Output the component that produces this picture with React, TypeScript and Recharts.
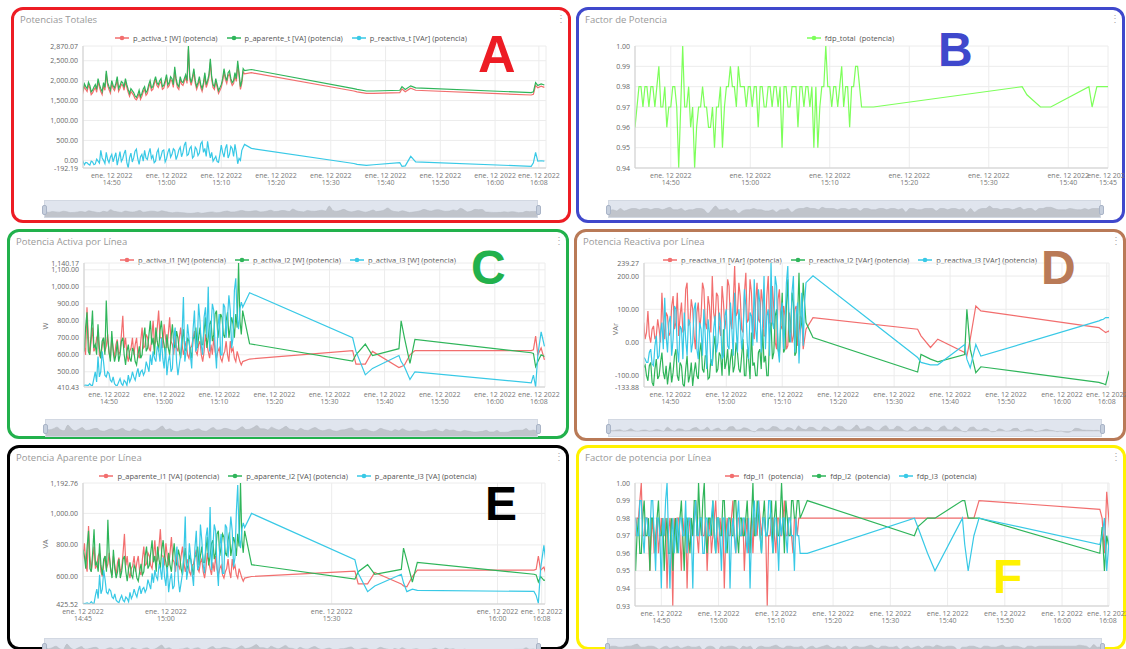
import React from "react";
import { LineChart, Line, XAxis, YAxis, CartesianGrid, AreaChart, Area } from "recharts";

// sample times, minutes after 14:00 (dense logging, then a few sparse samples)
const denseT = [
  44.5, 44.75, 45, 45.25, 45.5, 45.75, 46, 46.25, 46.5, 46.75, 47, 47.25, 47.5, 47.75, 48, 48.25, 48.5, 48.75, 49, 49.25,
  49.5, 49.75, 50, 50.25, 50.5, 50.75, 51, 51.25, 51.5, 51.75, 52, 52.25, 52.5, 52.75, 53, 53.25, 53.5, 53.75, 54, 54.25,
  54.5, 54.75, 55, 55.25, 55.5, 55.75, 56, 56.25, 56.5, 56.75, 57, 57.25, 57.5, 57.75, 58, 58.25, 58.5, 58.75, 59, 59.25,
  59.5, 59.75, 60, 60.25, 60.5, 60.75, 61, 61.25, 61.5, 61.75, 62, 62.25, 62.5, 62.75, 63, 63.25, 63.5, 63.75, 64, 64.25,
  64.5, 64.75, 65, 65.25, 65.5, 65.75, 66, 66.25, 66.5, 66.75, 67, 67.25, 67.5, 67.75, 68, 68.25, 68.5, 68.75, 69, 69.25,
  69.5, 69.75, 70, 70.25, 70.5, 70.75, 71, 71.25, 71.5, 71.75, 72, 72.25, 72.5, 72.75, 73, 73.25, 73.5, 73.75, 74, 74.25,
];
const tailT = [75.5, 94.2, 94.8, 96.5, 97.8, 102.6, 103, 103.6, 104.6, 105.5, 126.6, 127, 127.4, 127.8, 128.4, 129];
const times = [...denseT, ...tailT];

// A: Potencias Totales
const activaT = [
  1830, 1710, 1850, 1780, 1730, 1890, 1810, 1650, 1690, 1770, 1830, 1710, 1980, 1830, 1730, 1650, 1880, 1760, 2170, 1880,
  1780, 1690, 1930, 1810, 1750, 1860, 2030, 1730, 1800, 1910, 1880, 1760, 1980, 1830, 1710, 1610, 1730, 1680, 1630, 1550,
  1520, 1580, 1690, 1530, 1610, 1720, 1780, 1630, 1680, 1830, 1930, 1750, 1780, 1910, 2030, 1880, 1830, 1930, 1980, 1780,
  1810, 1930, 2080, 1830, 1880, 2030, 1980, 1830, 2270, 1980, 1830, 1780, 2030, 1910, 1880, 1980, 2080, 1930, 2790, 2030,
  1880, 2030, 2220, 1930, 1780, 1880, 2030, 1830, 1730, 1880, 2120, 1830, 1930, 2080, 2460, 2030, 1830, 1780, 1980, 1830,
  1680, 1750, 1830, 1980, 2220, 2030, 1930, 2120, 2170, 1980, 1880, 1930, 2120, 1980, 2400, 2120, 1780, 1930, 2220, 2170,
  2200, 1740, 1720, 1680, 1680, 1700, 1790, 1720, 1810, 1760, 1640, 1660, 1880, 1820, 1860, 1830,
];
const aparenteT = [
  1900, 1780, 1920, 1850, 1800, 1960, 1880, 1720, 1760, 1840, 1900, 1780, 2050, 1900, 1800, 1720, 1950, 1830, 2250, 1950,
  1850, 1760, 2000, 1880, 1820, 1930, 2100, 1800, 1870, 1980, 1950, 1830, 2050, 1900, 1780, 1680, 1800, 1750, 1700, 1620,
  1580, 1650, 1760, 1600, 1680, 1790, 1850, 1700, 1750, 1900, 2000, 1820, 1850, 1980, 2100, 1950, 1900, 2000, 2050, 1850,
  1880, 2000, 2150, 1900, 1950, 2100, 2050, 1900, 2350, 2050, 1900, 1850, 2100, 1980, 1950, 2050, 2150, 2000, 2870.07, 2100,
  1950, 2100, 2300, 2000, 1850, 1950, 2100, 1900, 1800, 1950, 2200, 1900, 2000, 2150, 2550, 2100, 1900, 1850, 2050, 1900,
  1750, 1820, 1900, 2050, 2300, 2100, 2000, 2200, 2250, 2050, 1950, 2000, 2200, 2050, 2500, 2200, 1850, 2000, 2300, 2250,
  2280, 1800, 1780, 1740, 1740, 1760, 1850, 1780, 1870, 1820, 1700, 1720, 1950, 1880, 1920, 1890,
];
const reactivaT = [
  -80, -30, -110, -50, -60, -100, -120, -20, -40, -110, -90, 30, -20, -70, 250, 60, 0, -80, 200, 20,
  -60, 80, 150, -40, 80, 190, -120, 40, 220, -30, 40, 170, 260, -50, -192.19, 60, 180, -40, 60, 230,
  280, 40, -100, 90, 150, -20, 250, 60, 20, 180, 300, 50, 120, -60, -20, 200, 280, 0, 100, 240,
  260, -40, 40, 200, 300, 80, 150, 290, 250, 20, 120, 260, 330, 90, 200, 380, 464, 120, 150, 300,
  350, 60, 100, 330, 280, 120, 180, 420, 470, 200, 300, 100, 480, 250, 60, 200, -20, 40, 100, -30,
  -50, 150, 380, 200, 80, 300, 400, 60, 150, 350, 300, 100, 400, 200, -86, 50, 0, 250, 330, 400,
  300, -80, -100, -125, -110, -60, -150, -140, 100, -40, -150, -60, 200, -20, -10, -20,
];

// B: Factor de Potencia
const fdpTotal = [
  0.96, 0.97, 0.96, 0.98, 0.96, 0.97, 0.98, 0.98, 0.97, 0.98, 0.98, 0.97, 0.98, 0.98, 0.97, 0.98, 0.99, 0.97, 0.97, 0.98,
  0.96, 0.97, 0.97, 0.98, 0.98, 0.97, 0.94, 0.97, 1.0, 0.97, 0.97, 0.98, 0.96, 0.97, 0.94, 0.96, 0.97, 0.97, 0.98, 0.97,
  0.97, 0.96, 0.96, 0.97, 0.95, 0.97, 0.97, 0.98, 0.95, 0.97, 0.98, 0.98, 0.99, 0.98, 0.98, 0.97, 0.99, 0.98, 0.98, 0.98,
  0.97, 0.98, 0.98, 0.97, 0.98, 0.98, 0.96, 0.98, 0.98, 0.97, 0.97, 0.98, 0.98, 0.97, 0.98, 0.98, 0.97, 0.98, 0.95, 0.98,
  0.98, 0.97, 0.97, 0.98, 0.98, 0.98, 0.96, 0.98, 0.98, 0.97, 0.98, 0.98, 0.97, 0.98, 0.95, 0.98, 0.95, 0.97, 0.98, 0.98,
  1.0, 0.98, 0.98, 0.97, 0.98, 0.98, 0.97, 0.98, 0.99, 0.97, 0.98, 0.98, 0.96, 0.98, 0.98, 0.99, 0.99, 0.98, 0.97, 0.97,
  0.97, 0.98, 0.976, 0.97, 0.97, 0.98, 0.97, 0.98, 0.98, 0.98, null, null, null, null, null, null,
];

// C: Potencia Activa por Línea
const activaL1 = [
  730, 650, 700, 780, 650, 600, 880, 700, 600, 680, 760, 620, 640, 700, 720, 600, 580, 650, 700, 620,
  650, 720, 610, 580, 700, 640, 580, 660, 690, 600, 620, 720, 830, 640, 700, 600, 560, 620, 640, 700,
  600, 660, 700, 600, 580, 680, 760, 640, 650, 720, 700, 640, 620, 700, 800, 660, 680, 760, 860, 700,
  700, 640, 780, 700, 640, 720, 820, 680, 660, 600, 720, 640, 620, 700, 760, 660, 600, 640, 680, 600,
  580, 640, 650, 700, 740, 620, 600, 660, 680, 600, 560, 620, 720, 660, 620, 580, 660, 600, 700, 620,
  580, 620, 640, 580, 560, 600, 620, 680, 600, 560, 680, 620, 640, 580, 560, 620, 590, 560, 540, 560,
  575, 625, 545, 545, 620, 525, 530, 540, 600, 625, 625, 630, 710, 600, 640, 570,
];
const activaL2 = [
  760, 640, 740, 700, 620, 760, 850, 620, 600, 720, 860, 640, 660, 600, 780, 640, 580, 680, 700, 600,
  920, 700, 620, 560, 740, 620, 560, 600, 680, 560, 600, 680, 700, 600, 540, 620, 660, 580, 560, 640,
  620, 560, 540, 600, 650, 580, 600, 700, 760, 620, 640, 720, 800, 660, 700, 600, 760, 680, 620, 740,
  800, 700, 660, 600, 720, 640, 600, 700, 780, 660, 640, 740, 700, 620, 580, 680, 750, 640, 620, 700,
  680, 620, 580, 700, 700, 760, 640, 700, 760, 660, 660, 740, 820, 640, 700, 780, 800, 680, 720, 840,
  860, 700, 760, 840, 820, 720, 700, 800, 850, 700, 760, 820, 780, 700, 840, 760, 1140.17, 800, 720, 860,
  665, 563, 600, 663, 596, 636, 800, 700, 550, 690, 612, 608, 530, 560, 600, 590,
];
const activaL3 = [
  420, 425, 420, 420, 420, 422, 420, 420, 430, 420, 420, 460, 500, 440, 590, 470, 500, 620, 560, 480,
  470, 500, 490, 450, 440, 470, 430, 420, 420, 440, 460, 430, 420, 450, 440, 420, 480, 440, 460, 500,
  470, 450, 490, 520, 470, 500, 510, 480, 500, 560, 530, 500, 600, 540, 620, 580, 560, 650, 630, 560,
  700, 580, 520, 640, 480, 560, 600, 500, 520, 700, 760, 560, 480, 540, 600, 720, 940, 560, 620, 780,
  700, 600, 520, 750, 860, 620, 650, 900, 800, 650, 600, 820, 880, 700, 1000, 620, 760, 900, 860, 640,
  520, 760, 840, 600, 600, 900, 880, 700, 820, 950, 860, 640, 700, 980, 1050, 820, 750, 870, 910, 880,
  965, 700, 620, 482, 520, 596, 560, 530, 455, 500, 435, 480, 410.43, 600, 735, 650,
];

// D: Potencia Reactiva por Línea
const reactivaL1 = [
  40, 20, 45, 60, 10, 30, 95, 20, 0, 40, 50, 10, 20, 70, 40, 0, 150, 60, 10, 90,
  80, 20, 30, 110, 140, 40, 60, 150, 20, 80, 120, 30, 40, 160, 180, 50, 60, 130, 100, 20,
  -20, 90, 120, 40, 80, 180, 160, 60, 40, 140, 110, 30, 200, 90, 60, 150, 140, 50, 20, 170,
  120, 40, 80, 190, 170, 60, 40, 120, 230, 80, 90, 180, 140, 40, 30, 150, 210, 60, 70, 190,
  150, 30, 10, 120, 180, 70, 60, 160, 120, 20, 20, 140, 200, 60, 50, 170, 100, 0, -20, 130,
  160, 50, 40, 110, 80, -20, -10, 90, 60, 0, 20, 100, 110, -10, 30, 80, 70, -20, 10, 40,
  75, 40, 20, -15, 10, -30, -40, 10, 110, 95, 45, 40, 35, 30, 35, 0,
];
const reactivaL2 = [
  -50, -60, -52, -75, -68, -100, -115, -70, -60, -120, -131, -80, -50, -110, -100, -60, -30, -90, -110, -70,
  -126, -90, -60, -120, -90, -40, -20, -100, -115, -60, -70, -125, -133.88, -80, -40, -120, -100, -60, -131, -90,
  -60, -100, -110, -30, 0, -80, -90, -40, -40, -110, -105, -50, -70, -10, 20, -90, -80, -30, -40, -100,
  40, -80, -60, -20, -100, -50, -20, -90, -70, 0, -30, -80, -90, -40, 10, -100, -100, -20, -50, -110,
  30, -70, -60, -100, -100, -30, -20, -80, 40, -60, -40, -100, -100, 20, 60, -50, -30, 80, 100, -20,
  -40, 60, 150, -30, -20, 110, 190, 0, 30, 150, 120, -40, -30, 80, 210, 40, 60, 180, 120, 60,
  15, -89, -36, -50, -58, -36, 100, -20, -91, -73, -120, -122, -124, -127, -87, -87,
];
const reactivaL3 = [
  -50, -55, -47, -45, -50, -60, -60, -30, -20, -65, -70, -10, 20, -50, -40, 30, 60, -20, 135, 20,
  -30, 60, 80, -40, 10, 110, 100, -20, -60, 50, 40, -50, 90, 10, -40, 70, 60, -30, 0, 100,
  120, -20, -50, 60, 40, -40, 100, 20, -80, 70, 30, -60, -70, 40, 80, -30, 0, 90, 60, -50,
  -40, 80, 100, -10, -20, 120, 40, -40, 150, 50, -30, 100, 60, -20, 20, 160, 110, 0, -50, 90,
  80, -10, 190, 40, 0, 160, 120, -30, 60, 200, -20, 80, 100, -40, 239.27, 60, 40, 200, 170, -20,
  -60, 90, 120, -20, 60, 180, 230, 40, 0, 150, 200, -30, 80, 120, -63, 40, 150, -10, 120, 180,
  201, -45, -60, -67, -67, -6, -50, -76, -6, -41, 65, 68, 70, 75, 75, 75,
];

// E: Potencia Aparente por Línea
const aparenteL1 = [
  760, 680, 730, 810, 680, 630, 920, 730, 630, 710, 790, 650, 670, 730, 750, 630, 600, 680, 730, 650,
  680, 750, 640, 610, 730, 670, 610, 690, 720, 630, 650, 750, 870, 670, 730, 630, 590, 650, 670, 730,
  630, 690, 730, 630, 610, 710, 790, 670, 680, 750, 730, 670, 650, 730, 830, 690, 710, 790, 900, 730,
  730, 670, 810, 730, 670, 750, 850, 710, 690, 630, 750, 670, 650, 730, 790, 690, 630, 670, 710, 630,
  610, 670, 680, 730, 770, 650, 630, 690, 710, 630, 590, 650, 750, 690, 650, 610, 690, 630, 730, 650,
  610, 650, 670, 610, 590, 630, 650, 710, 630, 590, 710, 650, 670, 610, 590, 650, 620, 590, 570, 590,
  600, 634, 553, 553, 625, 553, 540, 535, 600, 640, 640, 645, 730, 640, 660, 590,
];
const aparenteL2 = [
  790, 670, 770, 730, 650, 790, 890, 650, 630, 750, 900, 670, 690, 630, 810, 670, 610, 710, 730, 630,
  960, 730, 650, 590, 770, 650, 590, 630, 710, 590, 630, 710, 730, 630, 570, 650, 690, 610, 590, 670,
  650, 590, 570, 630, 680, 610, 630, 730, 790, 650, 670, 750, 830, 690, 730, 630, 790, 710, 650, 770,
  830, 730, 690, 630, 750, 670, 630, 730, 810, 690, 670, 770, 730, 650, 610, 710, 780, 670, 650, 730,
  710, 650, 610, 730, 730, 790, 670, 730, 790, 690, 690, 770, 850, 670, 730, 810, 830, 710, 750, 870,
  890, 730, 790, 870, 850, 750, 730, 830, 880, 730, 790, 850, 810, 730, 870, 790, 1192.76, 830, 750, 890,
  675, 583, 630, 675, 614, 645, 780, 700, 565, 690, 614, 610, 565, 600, 575, 580,
];
const aparenteL3 = [
  425.52, 430, 430, 428, 430, 432, 428, 430, 440, 430, 430, 480, 520, 460, 610, 490, 520, 640, 580, 500,
  490, 520, 510, 470, 460, 490, 450, 440, 435, 460, 480, 450, 440, 470, 460, 440, 500, 460, 480, 520,
  490, 470, 510, 540, 490, 520, 530, 500, 520, 580, 550, 520, 620, 560, 640, 600, 580, 670, 650, 580,
  720, 600, 540, 660, 500, 580, 620, 520, 540, 720, 790, 580, 500, 560, 620, 740, 980, 580, 640, 810,
  720, 620, 540, 780, 890, 640, 670, 930, 830, 670, 620, 850, 910, 720, 1040, 640, 790, 930, 890, 660,
  540, 790, 870, 620, 620, 930, 910, 720, 850, 980, 890, 660, 720, 1010, 1180, 850, 780, 900, 940, 910,
  1000, 706, 620, 504, 540, 614, 560, 504, 520, 512, 505, 480, 430, 650, 797, 620,
];

// F: Factor de potencia por Línea
const fdpL1 = [
  0.96, 0.98, 0.98, 0.97, 0.97, 0.98, 0.98, 0.99, 1.0, 0.97, 0.97, 0.98, 0.98, 0.97, 0.95, 0.97, 0.98, 0.96, 0.97, 0.98,
  0.96, 0.97, 0.98, 0.97, 0.97, 0.98, 0.94, 0.97, 0.98, 0.97, 0.93, 0.98, 0.97, 0.98, 0.98, 0.97, 0.95, 0.98, 0.97, 0.98,
  0.94, 0.97, 0.98, 0.97, 0.97, 0.98, 0.99, 0.97, 0.96, 0.98, 0.98, 0.97, 0.97, 0.98, 0.95, 0.97, 0.98, 0.96, 0.97, 0.98,
  0.99, 0.97, 0.96, 0.98, 0.97, 0.98, 0.94, 0.97, 0.98, 0.97, 0.97, 0.98, 0.99, 0.97, 0.96, 0.98, 0.98, 0.97, 0.97, 0.98,
  0.95, 0.97, 0.98, 0.96, 0.97, 0.98, 0.96, 0.98, 0.98, 0.97, 0.99, 0.98, 0.97, 0.98, 0.98, 0.97, 0.93, 0.97, 0.97, 0.98,
  0.98, 0.97, 0.96, 0.98, 0.98, 0.97, 0.97, 0.98, 0.99, 0.97, 0.97, 0.98, 0.98, 0.97, 0.96, 0.98, 0.98, 0.97, 0.98, 0.98,
  0.98, 0.98, 0.98, 0.98, 0.98, 0.98, 0.98, 0.98, 0.98, 0.99, 0.985, 0.98, 0.96, 0.995, 0.97, 0.975,
];
const fdpL2 = [
  0.98, 0.97, 0.97, 0.98, 0.95, 0.97, 0.98, 0.96, 0.96, 0.98, 0.99, 0.97, 0.97, 0.98, 0.95, 0.98, 0.98, 0.97, 0.96, 0.98,
  0.99, 0.97, 0.97, 0.98, 0.95, 0.97, 0.98, 0.96, 0.96, 0.98, 0.95, 0.97, 0.98, 0.96, 0.97, 0.98, 0.99, 0.97, 0.95, 0.98,
  0.98, 0.97, 0.96, 0.98, 0.97, 0.99, 0.99, 0.97, 1.0, 0.98, 0.97, 0.99, 1.0, 0.97, 0.96, 0.98, 0.98, 0.97, 0.99, 0.97,
  0.96, 0.98, 0.98, 0.97, 0.97, 0.99, 0.99, 0.97, 0.96, 0.98, 0.98, 0.97, 0.97, 0.99, 0.99, 0.97, 0.96, 0.98, 0.98, 0.97,
  0.97, 0.98, 0.99, 0.97, 0.96, 0.98, 1.0, 0.97, 0.97, 0.99, 0.98, 0.97, 0.96, 0.98, 0.99, 0.97, 0.97, 0.98, 0.98, 0.99,
  0.96, 0.98, 0.99, 0.97, 0.97, 0.98, 1.0, 0.98, 0.96, 0.99, 0.98, 0.97, 0.97, 0.99, 0.99, 0.98, 0.98, 0.99, 0.99, 0.98,
  0.99, 0.97, 0.975, 0.98, 0.98, 0.99, 0.99, 0.98, 0.98, 0.98, 0.96, 0.975, 0.95, 0.97, 0.96, 0.955,
];
const fdpL3 = [
  0.97, 0.97, 0.97, 0.98, 0.98, 0.97, 0.97, 0.99, 0.99, 0.97, 0.96, 0.98, 0.98, 0.97, 0.97, 0.99, 0.99, 0.97, 0.95, 0.98,
  0.98, 0.97, 0.94, 0.98, 0.97, 0.99, 1.0, 0.97, 0.94, 0.97, 0.98, 0.96, 0.97, 0.98, 0.96, 0.98, 0.98, 0.97, 0.97, 0.99,
  0.96, 0.98, 0.98, 0.97, 0.94, 0.98, 0.99, 0.97, 0.97, 0.98, 0.98, 0.96, 0.96, 0.98, 0.98, 0.97, 0.97, 0.98, 0.99, 0.97,
  0.96, 0.98, 0.98, 0.97, 0.95, 0.98, 0.98, 0.96, 0.97, 0.98, 0.94, 0.97, 0.98, 0.97, 0.96, 0.98, 0.99, 0.97, 0.97, 0.98,
  0.98, 0.97, 0.96, 0.98, 0.94, 0.97, 0.98, 0.99, 0.97, 0.98, 0.99, 0.97, 0.96, 0.98, 0.98, 0.97, 0.97, 0.99, 0.99, 0.97,
  0.96, 0.98, 0.98, 0.97, 0.95, 0.98, 0.97, 0.98, 0.98, 0.97, 0.96, 0.98, 0.98, 0.97, 0.97, 0.95, 0.98, 0.97, 0.97, 0.96,
  0.96, 0.98, 0.975, 0.96, 0.95, 0.98, 0.965, 0.95, 0.97, 0.98, 0.965, 0.97, 0.98, 0.95, 0.975, 0.97,
];

// axis ticks
const xTicksMain = [50, 60, 70, 80, 90, 100, 110, 120, 128];
const xTicksB = [50, 60, 70, 80, 90, 100, 105];
const xTicksE = [45, 60, 90, 120, 128];
const yTicksA = [-192.19, 0, 500, 1000, 1500, 2000, 2500, 2870.07];
const yTicksB = [0.94, 0.95, 0.96, 0.97, 0.98, 0.99, 1.0];
const yTicksC = [410.43, 500, 600, 700, 800, 900, 1000, 1100, 1140.17];
const yTicksD = [-133.88, -100, 0, 100, 200, 239.27];
const yTicksE = [425.52, 600, 800, 1000, 1192.76];
const yTicksF = [0.93, 0.94, 0.95, 0.96, 0.97, 0.98, 0.99, 1.0];

const RED = "#f26e6e";
const GREEN = "#2fb55a";
const CYAN = "#38c9e6";
const LIME = "#7dff5a";
const FONT = '"Open Sans", "Noto Sans", sans-serif';

type Series = { key: string; name: string; color: string; values: (number | null)[] };
type Box = { left: number; top: number; width: number; height: number };
type PanelCfg = {
  box: Box;
  border: string;
  title: string;
  plot: { x0: number; x1: number; y0: number; y1: number };
  xDomain: [number, number];
  xTicks: number[];
  yDomain: [number, number];
  yTicks: number[];
  unit?: { text: string; x: number; y: number };
  series: Series[];
  letter: { text: string; color: string; x: number; y: number; size: number };
  slider: { x0: number; x1: number; y0: number; h: number };
};

const fmtTime = (m: number) => `${14 + Math.floor(m / 60)}:${String(Math.round(m % 60)).padStart(2, "0")}`;
const fmtVal = (v: number) =>
  v.toLocaleString("en-US", { minimumFractionDigits: 2, maximumFractionDigits: 2 });

// eslint-disable-next-line @typescript-eslint/no-explicit-any
function TimeTick({ x, y, payload }: any) {
  return (
    <g transform={`translate(${x},${y})`}>
      <text textAnchor="middle" fill="#777" fontSize={7} style={{ fontFamily: FONT }}>
        <tspan x={0} dy={9.5}>ene. 12 2022</tspan>
        <tspan x={0} dy={7.5}>{fmtTime(payload.value)}</tspan>
      </text>
    </g>
  );
}

// eslint-disable-next-line @typescript-eslint/no-explicit-any
function ValTick({ x, y, payload }: any) {
  return (
    <text x={x - 5} y={y + 2.5} textAnchor="end" fill="#666" fontSize={7} style={{ fontFamily: FONT }}>
      {fmtVal(payload.value)}
    </text>
  );
}

function Slider({ s, values }: { s: PanelCfg["slider"]; values: (number | null)[] }) {
  const vals = values.filter((v): v is number => v != null);
  const data = vals.map((v, i) => ({ i, v }));
  const lo = Math.min(...vals);
  const hi = Math.max(...vals);
  const r = hi - lo || 1;
  const w = s.x1 - s.x0;
  const handle = (left: number) => (
    <div
      style={{
        position: "absolute",
        left,
        top: s.h / 2 - 5,
        width: 5,
        height: 10,
        background: "#c6cfdd",
        border: "1px solid #a9b4c7",
        borderRadius: 2,
        boxSizing: "border-box",
      }}
    />
  );
  return (
    <div
      style={{
        position: "absolute",
        left: s.x0,
        top: s.y0,
        width: w,
        height: s.h,
        background: "#e0e5ee",
        border: "1px solid #d2d8e2",
        boxSizing: "border-box",
      }}
    >
      <AreaChart width={w - 2} height={s.h - 2} data={data} margin={{ top: 0, right: 0, bottom: 0, left: 0 }}>
        <XAxis dataKey="i" hide />
        <YAxis hide domain={[lo - r * 0.5, hi + r * 0.7]} />
        <Area dataKey="v" type="monotone" stroke="#b3b8c0" strokeWidth={0.5} fill="#c0c4cb" fillOpacity={1} isAnimationActive={false} />
      </AreaChart>
      {handle(-3)}
      {handle(w - 3)}
    </div>
  );
}

function Panel({ cfg }: { cfg: PanelCfg }) {
  const { box, plot } = cfg;
  const rows = times.map((t, i) => {
    const r: Record<string, number | null> = { t };
    cfg.series.forEach((s) => (r[s.key] = s.values[i]));
    return r;
  });
  const yw = 50;
  const xh = 20;
  const margin = {
    left: plot.x0 - box.left - yw,
    right: box.left + box.width - plot.x1,
    top: plot.y0 - box.top,
    bottom: box.top + box.height - plot.y1 - xh,
  };
  return (
    <>
      <div
        style={{
          position: "absolute",
          left: box.left,
          top: box.top,
          width: box.width,
          height: box.height,
          border: `3px solid ${cfg.border}`,
          borderRadius: 12,
          boxSizing: "border-box",
        }}
      />
      <div style={{ position: "absolute", left: box.left + 9, top: box.top + 6, fontSize: 9.5, lineHeight: "14px", color: "#999" }}>
        {cfg.title}
      </div>
      <div style={{ position: "absolute", left: box.left + box.width - 15, top: box.top + 4, fontSize: 10, color: "#aaa" }}>⋮</div>
      <div
        style={{
          position: "absolute",
          left: box.left,
          top: box.top + 25,
          width: box.width,
          height: 12,
          display: "flex",
          justifyContent: "center",
          alignItems: "center",
          gap: 9,
          fontSize: 7.5,
          color: "#555",
        }}
      >
        {cfg.series.map((s) => (
          <div key={s.key} style={{ display: "flex", alignItems: "center", gap: 4 }}>
            <svg width={14} height={6}>
              <line x1={0} y1={3} x2={14} y2={3} stroke={s.color} strokeWidth={1.5} />
              <circle cx={7} cy={3} r={2.3} fill={s.color} />
            </svg>
            <span style={{ whiteSpace: "pre" }}>{s.name}</span>
          </div>
        ))}
      </div>
      {cfg.unit && (
        <div
          style={{
            position: "absolute",
            left: cfg.unit.x - 20,
            top: cfg.unit.y - 6,
            width: 40,
            textAlign: "center",
            fontSize: 7.5,
            color: "#777",
            transform: "rotate(-90deg)",
          }}
        >
          {cfg.unit.text}
        </div>
      )}
      <div style={{ position: "absolute", left: box.left, top: box.top }}>
        <LineChart width={box.width} height={box.height} data={rows} margin={margin}>
          <CartesianGrid stroke="#ececec" />
          <XAxis
            dataKey="t"
            type="number"
            domain={cfg.xDomain}
            ticks={cfg.xTicks}
            interval={0}
            allowDataOverflow
            height={xh}
            tickSize={0}
            tickMargin={0}
            tick={<TimeTick />}
            stroke="#cfcfcf"
          />
          <YAxis
            type="number"
            domain={cfg.yDomain}
            ticks={cfg.yTicks}
            interval={0}
            allowDataOverflow
            width={yw}
            tickSize={0}
            tickMargin={0}
            tick={<ValTick />}
            stroke="#cfcfcf"
          />
          {cfg.series.map((s) => (
            <Line
              key={s.key}
              type="linear"
              dataKey={s.key}
              stroke={s.color}
              strokeWidth={1.2}
              dot={false}
              isAnimationActive={false}
            />
          ))}
        </LineChart>
      </div>
      <Slider s={cfg.slider} values={cfg.series[0].values} />
      <div
        style={{
          position: "absolute",
          left: cfg.letter.x,
          top: cfg.letter.y,
          fontSize: cfg.letter.size,
          lineHeight: 1,
          fontWeight: 700,
          fontFamily: '"Liberation Sans", Arial, sans-serif',
          color: cfg.letter.color,
        }}
      >
        {cfg.letter.text}
      </div>
    </>
  );
}

const panels: PanelCfg[] = [
  {
    box: { left: 11, top: 7, width: 560, height: 216 },
    border: "#ed1c24",
    title: "Potencias Totales",
    plot: { x0: 83, x1: 546, y0: 46, y1: 168 },
    xDomain: [44.75, 129.3],
    xTicks: xTicksMain,
    yDomain: [-192.19, 2870.07],
    yTicks: yTicksA,
    series: [
      { key: "a", name: "p_activa_t [W] (potencia)", color: RED, values: activaT },
      { key: "b", name: "p_aparente_t [VA] (potencia)", color: GREEN, values: aparenteT },
      { key: "c", name: "p_reactiva_t [VAr] (potencia)", color: CYAN, values: reactivaT },
    ],
    letter: { text: "A", color: "#ed1c24", x: 478, y: 28, size: 52 },
    slider: { x0: 44, x1: 538, y0: 200, h: 18 },
  },
  {
    box: { left: 576, top: 7, width: 549, height: 216 },
    border: "#3f48cc",
    title: "Factor de Potencia",
    plot: { x0: 635, x1: 1108, y0: 46, y1: 168 },
    xDomain: [45.5, 105],
    xTicks: xTicksB,
    yDomain: [0.94, 1.0],
    yTicks: yTicksB,
    series: [{ key: "a", name: "fdp_total  (potencia)", color: LIME, values: fdpTotal }],
    letter: { text: "B", color: "#3f48cc", x: 938, y: 26, size: 48 },
    slider: { x0: 608, x1: 1101, y0: 200, h: 18 },
  },
  {
    box: { left: 7, top: 229, width: 562, height: 210 },
    border: "#22b14c",
    title: "Potencia Activa por Línea",
    plot: { x0: 84, x1: 545, y0: 263, y1: 387 },
    xDomain: [45.46, 129.1],
    xTicks: xTicksMain,
    yDomain: [410.43, 1140.17],
    yTicks: yTicksC,
    unit: { text: "W", x: 45, y: 327 },
    series: [
      { key: "a", name: "p_activa_l1 [W] (potencia)", color: RED, values: activaL1 },
      { key: "b", name: "p_activa_l2 [W] (potencia)", color: GREEN, values: activaL2 },
      { key: "c", name: "p_activa_l3 [W] (potencia)", color: CYAN, values: activaL3 },
    ],
    letter: { text: "C", color: "#22b14c", x: 471, y: 244, size: 48 },
    slider: { x0: 45, x1: 538, y0: 419, h: 18 },
  },
  {
    box: { left: 574, top: 229, width: 552, height: 212 },
    border: "#b97a57",
    title: "Potencia Reactiva por Línea",
    plot: { x0: 644, x1: 1109, y0: 263, y1: 387 },
    xDomain: [45.3, 128.4],
    xTicks: xTicksMain,
    yDomain: [-133.88, 239.27],
    yTicks: yTicksD,
    unit: { text: "VAr", x: 615, y: 330 },
    series: [
      { key: "a", name: "p_reactiva_l1 [VAr] (potencia)", color: RED, values: reactivaL1 },
      { key: "b", name: "p_reactiva_l2 [VAr] (potencia)", color: GREEN, values: reactivaL2 },
      { key: "c", name: "p_reactiva_l3 [VAr] (potencia)", color: CYAN, values: reactivaL3 },
    ],
    letter: { text: "D", color: "#b97a57", x: 1041, y: 244, size: 48 },
    slider: { x0: 608, x1: 1102, y0: 419, h: 18 },
  },
  {
    box: { left: 7, top: 445, width: 562, height: 205 },
    border: "#000000",
    title: "Potencia Aparente por Línea",
    plot: { x0: 83, x1: 545, y0: 483, y1: 604 },
    xDomain: [45, 128.6],
    xTicks: xTicksE,
    yDomain: [425.52, 1192.76],
    yTicks: yTicksE,
    unit: { text: "VA", x: 45, y: 545 },
    series: [
      { key: "a", name: "p_aparente_l1 [VA] (potencia)", color: RED, values: aparenteL1 },
      { key: "b", name: "p_aparente_l2 [VA] (potencia)", color: GREEN, values: aparenteL2 },
      { key: "c", name: "p_aparente_l3 [VA] (potencia)", color: CYAN, values: aparenteL3 },
    ],
    letter: { text: "E", color: "#000000", x: 485, y: 480, size: 48 },
    slider: { x0: 44, x1: 538, y0: 638, h: 18 },
  },
  {
    box: { left: 576, top: 445, width: 550, height: 205 },
    border: "#fff200",
    title: "Factor de potencia por Línea",
    plot: { x0: 635, x1: 1109, y0: 483, y1: 606 },
    xDomain: [45.4, 128.2],
    xTicks: xTicksMain,
    yDomain: [0.93, 1.0],
    yTicks: yTicksF,
    series: [
      { key: "a", name: "fdp_l1  (potencia)", color: RED, values: fdpL1 },
      { key: "b", name: "fdp_l2  (potencia)", color: GREEN, values: fdpL2 },
      { key: "c", name: "fdp_l3  (potencia)", color: CYAN, values: fdpL3 },
    ],
    letter: { text: "F", color: "#fff200", x: 993, y: 553, size: 48 },
    slider: { x0: 607, x1: 1102, y0: 638, h: 18 },
  },
];

export default function App() {
  return (
    <div
      style={{
        position: "absolute",
        left: 0,
        top: 0,
        width: 1126,
        height: 649,
        background: "#fff",
        overflow: "hidden",
        fontFamily: FONT,
      }}
    >
      {panels.map((p) => (
        <Panel key={p.title} cfg={p} />
      ))}
    </div>
  );
}
